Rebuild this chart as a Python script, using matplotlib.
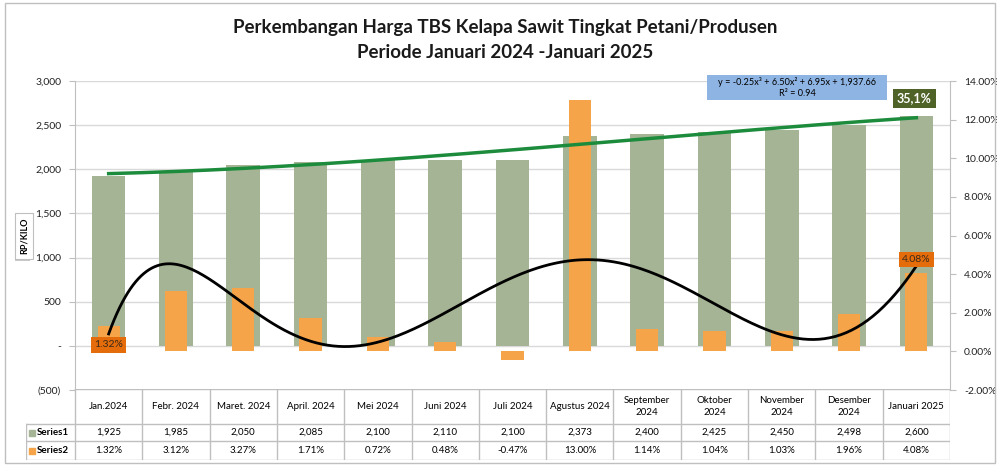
import matplotlib.pyplot as plt
from matplotlib.patches import Rectangle
import numpy as np

months = ["Jan.2024", "Febr. 2024", "Maret. 2024", "April. 2024", "Mei 2024", "Juni 2024",
          "Juli 2024", "Agustus 2024", "September\n2024", "Oktober\n2024", "November\n2024",
          "Desember\n2024", "Januari 2025"]
harga = [1925, 1985, 2050, 2085, 2100, 2110, 2100, 2373, 2400, 2425, 2450, 2498, 2600]
naik = [1.32, 3.12, 3.27, 1.71, 0.72, 0.48, -0.47, 13.00, 1.14, 1.04, 1.03, 1.96, 4.08]
left_ticks = [-500, 0, 500, 1000, 1500, 2000, 2500, 3000]
left_labels = ["(500)", "-", "500", "1,000", "1,500", "2,000", "2,500", "3,000"]
right_ticks = [-2, 0, 2, 4, 6, 8, 10, 12, 14]

GREEN = "#A4B494"
ORANGE = "#F5A449"
LINE_GREEN = "#1C8C3C"
GRID = "#D9D9D9"
EDGE = "#BFBFBF"

plt.rcParams['font.family'] = ['Lato', 'DejaVu Sans']

W, H = 997, 466
fig = plt.figure(figsize=(W / 100, H / 100), dpi=100)

def box(l, t, r, b):
    return [l / W, 1 - b / H, (r - l) / W, (b - t) / H]

x = np.arange(len(months))

# main axes: price bars
ax = fig.add_axes(box(75, 81, 950, 390))
ax.bar(x, harga, width=0.5, color=GREEN, zorder=2)
ax.set_xlim(-0.5, len(months) - 0.5)
ax.set_ylim(-500, 3000)
ax.set_yticks(left_ticks, left_labels)
ax.set_xticks([])
ax.grid(axis="y", color=GRID, lw=1, zorder=0)
ax.tick_params(axis="y", length=4, color=EDGE, labelsize=7.5, pad=6, labelcolor="#222222")
for s in ["top", "bottom", "right"]:
    ax.spines[s].set_visible(False)
ax.spines["left"].set_color(EDGE)

# percentage bars on the right axis
ax2 = ax.twinx()
ax2.bar(x, naik, width=0.33, color=ORANGE, zorder=2)
ax2.set_ylim(-2, 14)
ax2.set_yticks(right_ticks, [f"{v:.2f}%" for v in right_ticks])
ax2.tick_params(axis="y", length=4, color=EDGE, labelsize=7.5, pad=6, labelcolor="#222222")
for s in ["top", "bottom", "left"]:
    ax2.spines[s].set_visible(False)
ax2.spines["right"].set_color(EDGE)

# polynomial trendline (order 6) of the percentage series
xs = np.linspace(0, len(months) - 1, 300)
c6 = np.polyfit(x, naik, 6)
ax2.plot(xs, np.polyval(c6, xs), color="black", lw=2, zorder=4)

ax2.annotate(f"{naik[0]:.2f}%", (x[0], naik[0]), xytext=(0, -19), textcoords="offset pixels",
             ha="center", va="center", fontsize=7.5, color="#3A2A1A",
             bbox=dict(boxstyle="square,pad=0.3", fc="#E46C0A", ec="none"), zorder=5)
ax2.annotate(f"{naik[-1]:.2f}%", (x[-1], naik[-1]), xytext=(0, 13), textcoords="offset pixels",
             ha="center", va="center", fontsize=7.5, color="#3A2A1A",
             bbox=dict(boxstyle="square,pad=0.3", fc="#E46C0A", ec="none"), zorder=5)

# price trendline (order 3) on top
ax3 = ax.twinx()
ax3.set_ylim(-500, 3000)
ax3.axis("off")
c3 = np.polyfit(x + 1, harga, 3)
ax3.plot(xs, np.polyval(c3, xs + 1), color=LINE_GREEN, lw=2.5)
ax3.annotate("35,1%", (x[-1], harga[-1]), xytext=(-2, 18), textcoords="offset pixels",
             ha="center", va="center", fontsize=9, weight="bold", color="white",
             bbox=dict(boxstyle="square,pad=0.3", fc="#4F6228", ec="none"))

# equation box
fig.add_artist(Rectangle((707 / W, 1 - 100 / H), 180 / W, 25 / H, fc="#8EB4E3", ec="none",
                         transform=fig.transFigure))
fig.text(797 / W, 1 - 82 / H, "y = -0.25x³ + 6.50x² + 6.95x + 1,937.66", ha="center", va="center",
         fontsize=6.6)
fig.text(797 / W, 1 - 93 / H, "R² = 0.94", ha="center", va="center", fontsize=6.6)

# title
fig.text(505 / W, 1 - 28 / H, "Perkembangan Harga TBS Kelapa Sawit Tingkat Petani/Produsen",
         ha="center", va="center", fontsize=13.5, weight="bold", color="#1A1A1A")
fig.text(505 / W, 1 - 53 / H, "Periode Januari 2024 -Januari 2025",
         ha="center", va="center", fontsize=13.5, weight="bold", color="#1A1A1A")

# axis title box with a soft shadow
fig.add_artist(Rectangle((15 / W, 1 - 261 / H), 15 / W, 45 / H, fc="#C8C8C8", ec="none",
                         transform=fig.transFigure))
fig.text(24 / W, 1 - 236 / H, "RP/KILO", rotation=90, ha="center", va="center", fontsize=6.5,
         weight="bold", bbox=dict(boxstyle="square,pad=0.55", fc="white", ec=EDGE, lw=0.8))

# data table under the plot
tax = fig.add_axes(box(26, 389, 950, 460))
colw = 875 / len(months)
xl = -0.5 - 49 / colw
tax.set_xlim(xl, len(months) - 0.5)
tax.set_ylim(71, 0)
tax.axis("off")
xr = len(months) - 0.5
tax.plot([-0.5, xr], [0, 0], color=EDGE, lw=1)
for yy in [35, 52, 71]:
    tax.plot([xl, xr], [yy, yy], color=EDGE, lw=1)
for i in range(len(months) + 1):
    tax.plot([i - 0.5, i - 0.5], [0, 71], color=EDGE, lw=1)
tax.plot([xl, xl], [35, 71], color=EDGE, lw=1)
for i, m in enumerate(months):
    tax.text(i, 17.5, m, ha="center", va="center", fontsize=7, linespacing=1.4)
    tax.text(i, 43.5, f"{harga[i]:,}", ha="center", va="center", fontsize=7)
    tax.text(i, 61.5, f"{naik[i]:.2f}%", ha="center", va="center", fontsize=7)
for yy, lab, col in [(43.5, "Series1", GREEN), (61.5, "Series2", ORANGE)]:
    tax.plot([xl + 0.09], [yy], marker="s", ms=4, color=col, ls="none")
    tax.text(xl + 0.16, yy, lab, ha="left", va="center", fontsize=7, weight="bold")

fig.add_artist(Rectangle((5 / W, 1 - 463 / H), 990 / W, 460 / H, fill=False, ec=EDGE, lw=1,
                         transform=fig.transFigure))

fig.savefig("out.png", dpi=100)
